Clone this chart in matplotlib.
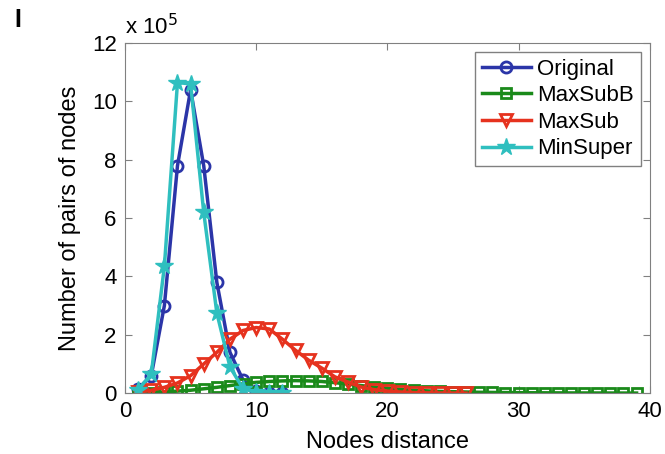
import matplotlib.pyplot as plt

plt.rcParams['font.family'] = ['Liberation Sans', 'DejaVu Sans']

# values in units of 1e5 pairs
x_orig = list(range(1, 13))
original = [0.15, 0.6, 3.0, 7.8, 10.4, 7.8, 3.8, 1.4, 0.45, 0.08, 0.02, 0.005]

x_minsuper = list(range(1, 13))
minsuper = [0.12, 0.65, 4.35, 10.65, 10.6, 6.2, 2.75, 0.9, 0.15, 0.03, 0.01, 0.002]

x_maxsub = list(range(1, 27))
maxsub = [0.03, 0.1, 0.2, 0.35, 0.6, 1.0, 1.4, 1.85, 2.15, 2.25, 2.2, 1.85, 1.47,
          1.13, 0.86, 0.56, 0.38, 0.21, 0.12, 0.07, 0.04, 0.02, 0.01, 0.006,
          0.003, 0.001]

x_maxsubb = list(range(1, 40))
maxsubb = [0.01, 0.02, 0.04, 0.07, 0.1, 0.15, 0.2, 0.26, 0.32, 0.37, 0.4, 0.42,
           0.43, 0.42, 0.4, 0.36, 0.31, 0.26, 0.21, 0.17, 0.13, 0.1, 0.08, 0.06,
           0.05, 0.04, 0.03, 0.025, 0.02, 0.017, 0.014, 0.012, 0.01, 0.008,
           0.007, 0.006, 0.005, 0.004, 0.003]

fig = plt.figure(figsize=(6.65, 4.54), dpi=100)
ax = fig.add_axes([0.188, 0.134, 0.789, 0.771])

ax.plot(x_orig, original, color='#2b35a8', lw=2.5, marker='o', ms=8,
        mfc='none', mew=2, label='Original')
ax.plot(x_maxsubb, maxsubb, color='#1a8a1a', lw=2.5, marker='s', ms=7,
        mfc='none', mew=2, label='MaxSubB')
ax.plot(x_maxsub, maxsub, color='#e6321e', lw=2.5, marker='v', ms=9,
        mfc='none', mew=2, label='MaxSub')
ax.plot(x_minsuper, minsuper, color='#2fbfbf', lw=2.5, marker='*', ms=13,
        label='MinSuper')

ax.set_xlim(0, 40)
ax.set_ylim(0, 12)
ax.set_xticks([0, 10, 20, 30, 40])
ax.set_yticks([0, 2, 4, 6, 8, 10, 12])
ax.tick_params(direction='in', top=True, right=True, labelsize=16,
               color='#808080', length=5, pad=6)
for s in ax.spines.values():
    s.set_color('#808080')

ax.set_xlabel('Nodes distance', fontsize=17, labelpad=6)
ax.set_ylabel('Number of pairs of nodes', fontsize=17, labelpad=8)

ax.text(0.0, 1.01, r'x 10$^{5}$', transform=ax.transAxes, fontsize=16,
        ha='left', va='bottom')
fig.text(0.022, 0.955, 'I', fontsize=18, fontweight='bold', va='center')

leg = ax.legend(loc='upper right', fontsize=16, handlelength=2.2,
                borderaxespad=0.4, fancybox=False, framealpha=1,
                labelspacing=0.25, handletextpad=0.3, borderpad=0.3)
leg.get_frame().set_edgecolor('#808080')

fig.savefig('out.png', dpi=100)
